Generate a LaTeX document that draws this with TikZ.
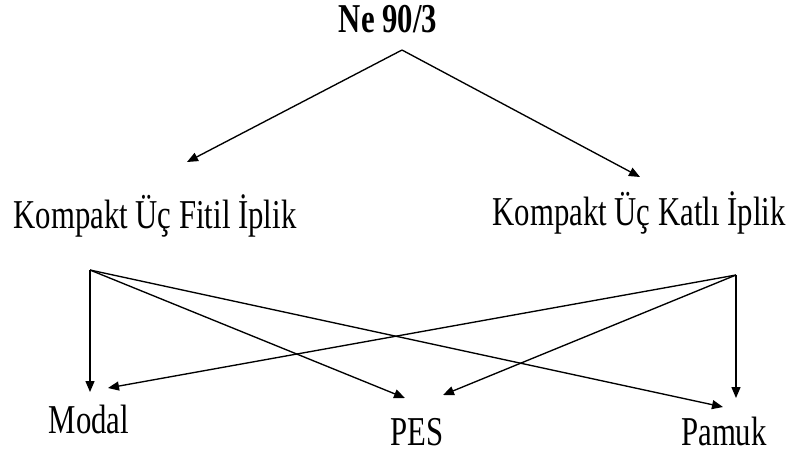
\documentclass[tikz,border=0pt]{standalone}
\usepackage{fontspec}
\setmainfont[FakeStretch=0.75]{Liberation Serif}
\usetikzlibrary{arrows.meta}
\tikzset{
  lbl/.style={anchor=base, inner sep=0pt, font=\fontsize{41}{48}\selectfont},
  link/.style={-{Triangle[length=11pt,width=9pt]}, line width=1.35pt},
}
\begin{document}
\begin{tikzpicture}[x=1pt,y=-1pt]
  \useasboundingbox (0,0) rectangle (795,456);
  % Labels
  \node[lbl, font=\bfseries\fontsize{41}{48}\selectfont] (ne) at (388,32) {Ne 90/3};
  \node[lbl] (fitil) at (155,228) {Kompakt Üç Fitil İplik};
  \node[lbl] (katli) at (639,225) {Kompakt Üç Katlı İplik};
  \node[lbl] (modal) at (89,433) {Modal};
  \node[lbl] (pes) at (417,445) {PES};
  \node[lbl] (pamuk) at (724,445) {Pamuk};
  % Branch points and arrow ends
  \coordinate (ne-out) at (402,50);
  \coordinate (fitil-in) at (187,162);
  \coordinate (katli-in) at (640,177);
  \coordinate (fitil-out) at (90,270);
  \coordinate (katli-out) at (736,275);
  \coordinate (modal-a) at (90,392);
  \coordinate (modal-b) at (108,388);
  \coordinate (pes-a) at (405,398);
  \coordinate (pes-b) at (443,395);
  \coordinate (pamuk-a) at (723,407);
  \coordinate (pamuk-b) at (736,398);
  % Top level
  \draw[link] (ne-out) -- (fitil-in);
  \draw[link] (ne-out) -- (katli-in);
  % Fitil branches
  \draw[link] (fitil-out) -- (modal-a);
  \draw[link] (fitil-out) -- (pes-a);
  \draw[link] (fitil-out) -- (pamuk-a);
  % Katli branches
  \draw[link] (katli-out) -- (modal-b);
  \draw[link] (katli-out) -- (pes-b);
  \draw[link] (katli-out) -- (pamuk-b);
\end{tikzpicture}
\end{document}
